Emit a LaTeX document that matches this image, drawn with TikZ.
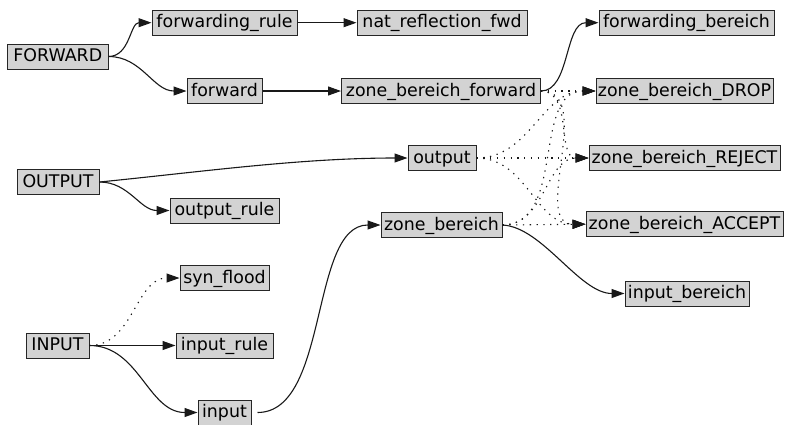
\documentclass[tikz,border=0pt]{standalone}
\usepackage{fontspec}
\setmainfont{DejaVu Sans}
\usetikzlibrary{arrows.meta}
\definecolor{nodefill}{HTML}{D3D3D3}
\begin{document}
\begin{tikzpicture}[x=1pt,y=-1pt,
  box/.style={draw=black!85, fill=nodefill, line width=1pt, inner sep=0pt,
    minimum height=25pt, text height=12.7pt, text depth=2.5pt,
    font=\fontsize{17.4}{20}\selectfont},
  edge/.style={line width=1.1pt, black!90, -{Triangle[length=13pt,width=9pt]}},
  dotedge/.style={edge, dash pattern=on 1.3pt off 5.5pt}]
\useasboundingbox (0,0) rectangle (787,424);
\clip (0,0) rectangle (787,424);
\fill[white] (0,0) rectangle (787,424);

\node[box,minimum width=100.5pt] (FORWARD) at (57.8,56.5) {FORWARD};
\node[box,minimum width=145pt] (fwdrule) at (224.5,22.7) {forwarding\_rule};
\node[box,minimum width=170pt] (nat) at (442,22.7) {nat\_reflection\_fwd};
\node[box,minimum width=75pt] (forward) at (224.5,91) {forward};
\node[box,minimum width=199pt] (zbf) at (441,91) {zone\_bereich\_forward};
\node[box,minimum width=175pt] (fb) at (686.5,22.7) {forwarding\_bereich};
\node[box,minimum width=177pt] (drop) at (684.5,91) {zone\_bereich\_DROP};
\node[box,minimum width=82pt] (OUTPUT) at (58,182) {OUTPUT};
\node[box,minimum width=68pt] (output) at (442,158) {output};
\node[box,minimum width=109pt] (outrule) at (224.5,210.5) {output\_rule};
\node[box,minimum width=121pt] (zb) at (441.5,225) {zone\_bereich};
\node[box,minimum width=191pt] (reject) at (684.5,158) {zone\_bereich\_REJECT};
\node[box,minimum width=197pt] (accept) at (684.5,224.2) {zone\_bereich\_ACCEPT};
\node[box,minimum width=89pt] (syn) at (224.5,278) {syn\_flood};
\node[box,minimum width=63pt] (INPUT) at (57.5,345.5) {INPUT};
\node[box,minimum width=97pt] (inrule) at (224.5,345.5) {input\_rule};
\node[box,minimum width=53pt] (input) at (224.5,412.5) {input};
\node[box,minimum width=124pt] (ib) at (687,293.5) {input\_bereich};

\draw[edge] (FORWARD.east) to[out=0,in=180] (fwdrule.west);
\draw[edge] (FORWARD.east) to[out=0,in=180] (forward.west);
\draw[edge] (fwdrule) -- (nat);
\draw[edge] (forward) -- (zbf);
\draw[edge] (zbf.east) .. controls +(29,0) and +(-34,0) .. (fb.west);

\draw[edge] (OUTPUT.east) .. controls (200,172) and (300,158) .. (output.west);
\draw[edge] (OUTPUT.east) to[out=0,in=180] (outrule.west);

\draw[dotedge] (INPUT.east) to[out=0,in=180] (syn.west);
\draw[edge] (INPUT) -- (inrule);
\draw[edge] (INPUT.east) to[out=0,in=180] (input.west);

\draw[edge] ([xshift=6pt]input.east) .. controls +(72,0) and +(-71,0) .. (zb.west);
\draw[edge] (zb.east) .. controls +(40,2) and +(-45,0) .. (ib.west);

\draw[dotedge] (zbf.east) -- (drop.west);
\draw[dotedge] (zbf.east) to[out=0,in=180] (reject.west);
\draw[dotedge] (zbf.east) to[out=0,in=180] (accept.west);
\draw[dotedge] (output.east) to[out=0,in=180] (drop.west);
\draw[dotedge] (output.east) -- (reject.west);
\draw[dotedge] (output.east) to[out=0,in=180] (accept.west);
\draw[dotedge] (zb.east) to[out=0,in=180] (drop.west);
\draw[dotedge] (zb.east) to[out=0,in=180] (reject.west);
\draw[dotedge] (zb.east) -- (accept.west);
\end{tikzpicture}
\end{document}
